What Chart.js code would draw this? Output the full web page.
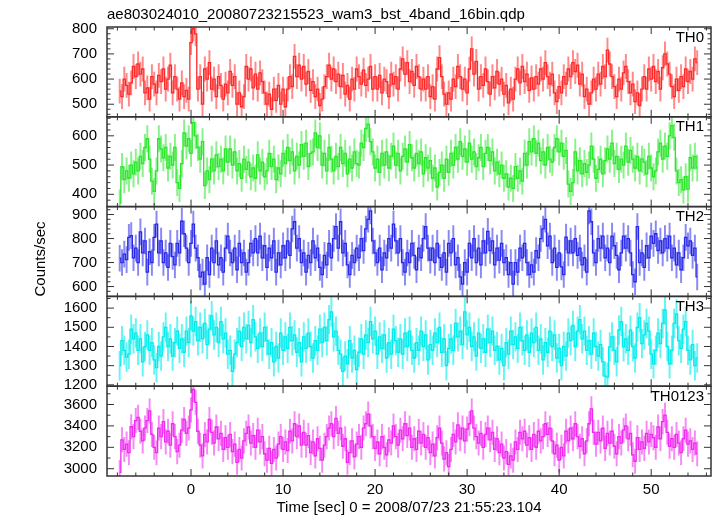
<!DOCTYPE html>
<html>
<head>
<meta charset="utf-8">
<script src="https://cdn.jsdelivr.net/npm/chart.js@4.4.1/dist/chart.umd.min.js"></script>
<style>
  html, body { margin: 0; background: #fff; }
  #wrap { position: relative; width: 717px; height: 516px; }
</style>
</head>
<body>
<div id="wrap"><canvas id="lc" width="717" height="516"></canvas></div>
<script>
// bin centres: first bin at -7.75 s, 0.25 s bins (16 x 1/64 s)
const tStart = -7.75;
const tBin = 0.25;

const th0 = [
  552,530,600,575, 540,585,650,610, 660,620,640,545, 565,520,610,580, 545,615,590,640,
  560,600,655,545, 610,560,520,585, 530,555,520,745, 800,780,560,610, 500,640,600,665,
  560,600,530,610, 575,520,580,545, 630,575,610,500, 545,490,530,650, 600,640,565,620,
  560,625,590,545, 500,540,480,560, 515,575,500,560, 490,560,610,570, 690,610,655,600,
  650,580,630,555, 590,530,560,495, 520,570,610,655, 600,640,590,620, 570,615,540,575,
  520,600,560,640, 610,580,635,575, 600,650,560,610, 560,615,545,600, 590,530,620,580,
  610,560,640,680, 620,665,590,630, 575,650,610,560, 600,560,610,530, 570,520,640,685,
  610,540,500,545, 520,600,570,650, 610,560,600,545, 640,720,620,670, 560,610,575,640,
  590,540,610,565, 630,580,600,540, 575,505,560,520, 600,640,585,650, 590,620,555,605,
  560,610,580,640, 600,665,610,580, 620,545,510,570, 545,610,580,640, 610,665,630,655,
  580,620,530,560, 500,545,600,560, 620,580,650,610, 715,660,610,570, 530,600,560,625,
  650,590,545,580, 510,545,495,560, 610,560,640,600, 650,590,630,560, 645,700,660,620,
  570,530,600,555, 610,570,640,590, 630,600,680,665
];
const th1 = [
  370,495,450,480, 455,500,470,510, 480,530,505,560, 590,520,445,410, 480,590,555,525,
  560,490,530,500, 560,440,420,505, 610,565,590,540, 645,600,560,520, 580,430,480,450,
  520,480,535,495, 520,480,555,510, 555,500,545,480, 505,455,520,485, 510,460,490,455,
  535,480,510,460, 480,540,495,520, 450,490,470,540, 505,560,515,545, 480,530,500,570,
  530,575,495,540, 545,610,560,600, 500,540,480,560, 520,480,530,495, 560,505,540,470,
  520,490,545,505, 500,575,560,625, 640,580,545,490, 520,475,540,500, 545,490,530,565,
  500,540,480,530, 555,510,570,525, 490,540,505,545, 470,525,490,515, 455,490,425,475,
  500,455,520,475, 540,500,560,520, 580,530,555,510, 575,520,545,495, 525,560,495,540,
  560,515,545,480, 510,470,500,455, 470,425,455,420, 495,455,480,445, 540,500,580,545,
  590,540,575,515, 545,500,560,520, 510,560,590,545, 575,530,550,435, 410,440,545,480,
  515,470,505,475, 500,565,520,455, 485,520,470,515, 555,520,575,505, 530,485,520,500,
  565,510,550,520, 490,530,480,520, 510,470,530,490, 460,480,545,575, 520,565,530,600,
  635,595,480,440, 450,415,460,418, 525,490,530,490
];
const th2 = [
  718,700,735,712, 805,812,720,760, 700,828,740,790, 660,745,700,805, 860,740,790,700,
  740,680,780,725, 690,780,740,872, 820,760,700,780, 860,760,720,640, 660,610,720,650,
  760,700,790,690, 720,660,760,810, 740,700,760,670, 780,700,740,660, 700,780,740,800,
  740,810,720,770, 680,760,720,790, 660,740,690,770, 720,790,730,840, 870,760,800,700,
  740,660,730,700, 790,720,760,680, 650,730,690,780, 720,800,850,760, 870,740,780,690,
  650,730,700,760, 720,800,750,840, 880,915,790,740, 700,760,670,740, 720,800,760,860,
  790,740,800,700, 660,740,700,780, 730,670,760,720, 800,850,760,710, 760,700,780,720,
  680,740,660,780, 740,800,690,720, 640,610,700,660, 780,720,800,700, 760,690,790,740,
  830,750,790,690, 760,710,780,700, 720,650,700,610, 700,660,760,720, 780,700,650,690,
  660,750,720,800, 840,880,770,810, 700,760,680,740, 682,650,806,740, 790,740,800,730,
  760,690,720,660, 915,870,740,700, 800,760,810,720, 760,700,810,770, 730,670,740,810,
  760,800,740,650, 620,850,700,740, 680,770,720,810, 780,820,750,790, 740,800,760,810,
  720,760,690,740, 670,720,805,770, 790,730,760,640
];
const th3 = [
  1300,1430,1380,1345, 1360,1490,1440,1470, 1380,1440,1320,1400, 1460,1380,1420,1330, 1290,1400,1350,1450,
  1500,1400,1440,1350, 1420,1480,1390,1440, 1370,1480,1420,1560, 1480,1530,1430,1500, 1440,1520,1410,1490,
  1560,1460,1500,1420, 1530,1440,1470,1360, 1380,1270,1360,1420, 1480,1400,1500,1440, 1510,1420,1540,1450,
  1390,1470,1400,1500, 1430,1360,1420,1320, 1400,1340,1470,1380, 1450,1390,1500,1430, 1460,1370,1420,1320,
  1450,1390,1470,1400, 1340,1430,1380,1490, 1420,1500,1430,1540, 1580,1450,1480,1380, 1360,1270,1350,1310,
  1430,1340,1380,1280, 1370,1440,1360,1460, 1420,1530,1440,1480, 1360,1450,1390,1460, 1340,1420,1360,1490,
  1430,1370,1440,1360, 1470,1400,1480,1380, 1340,1420,1380,1480, 1400,1460,1330,1410, 1380,1470,1420,1500,
  1370,1440,1300,1390, 1440,1380,1520,1450, 1480,1410,1580,1460, 1500,1400,1450,1350, 1470,1390,1440,1370,
  1490,1420,1480,1380, 1400,1330,1390,1300, 1420,1360,1480,1410, 1450,1390,1500,1430, 1380,1460,1370,1470,
  1420,1500,1380,1440, 1330,1420,1370,1480, 1400,1460,1340,1390, 1300,1400,1350,1470, 1430,1510,1400,1480,
  1540,1440,1480,1380, 1430,1360,1470,1400, 1350,1410,1320,1245, 1240,1398,1450,1380, 1320,1486,1530,1398,
  1440,1380,1485,1400, 1340,1500,1550,1415, 1460,1520,1480,1360, 1310,1380,1470,1415, 1520,1590,1400,1310,
  1380,1520,1570,1430, 1390,1490,1530,1380, 1330,1410,1300,1340
];
const th0123 = [
  2965,3270,3180,3230, 3150,3392,3300,3450, 3480,3350,3260,3380, 3450,3540,3320,3200, 3150,3380,3300,3440,
  3250,3350,3220,3420, 3300,3160,3220,3360, 3460,3330,3380,3550, 3740,3620,3350,3220, 3120,3320,3250,3460,
  3340,3240,3390,3280, 3330,3180,3290,3200, 3320,3160,3230,3060, 3180,3100,3260,3330, 3390,3240,3310,3200,
  3360,3250,3300,3140, 3080,3190,3050,3180, 3100,3230,3300,3180, 3250,3170,3350,3260, 3420,3300,3400,3220,
  3340,3220,3310,3150, 3250,3120,3280,3190, 3080,3220,3300,3380, 3420,3300,3470,3330, 3380,3210,3280,3060,
  3150,3260,3110,3230, 3300,3200,3380,3420, 3510,3400,3300,3190, 3250,3140,3300,3200, 3130,3270,3240,3400,
  3300,3220,3360,3280, 3420,3310,3380,3200, 3280,3180,3350,3240, 3320,3200,3290,3150, 3230,3120,3290,3380,
  3240,3090,3150,3020, 3180,3320,3250,3410, 3280,3380,3260,3370, 3420,3540,3380,3300, 3240,3330,3200,3320,
  3380,3270,3340,3180, 3280,3150,3230,3100, 3160,3040,3120,3080, 3250,3180,3340,3280, 3350,3220,3290,3180,
  3320,3200,3350,3260, 3300,3420,3320,3380, 3260,3140,3220,3080, 3200,3120,3350,3260, 3380,3280,3420,3300,
  3210,3280,3140,3260, 3420,3560,3340,3230, 3340,3260,3380,3190, 3330,3240,3350,3210, 3140,3300,3240,3360,
  3400,3280,3330,3130, 3070,3290,3180,3250, 3190,3330,3250,3320, 3290,3200,3390,3280, 3440,3500,3340,3210,
  3280,3200,3320,3240, 3150,3280,3360,3230, 3260,3180,3240,3140
];

const bands = ['TH0', 'TH1', 'TH2', 'TH3', 'TH0123'];
const series = [th0, th1, th2, th3, th0123];
const errHalf = [48, 45, 54, 75, 114];
const yRanges = [[450, 807], [358, 665], [559, 933], [1193, 1661], [2932, 3771]];
const yMajor = [
  [500, 600, 700, 800],
  [400, 500, 600],
  [600, 700, 800, 900],
  [1200, 1300, 1400, 1500, 1600],
  [3000, 3200, 3400, 3600]
];
const yMinorStep = [20, 20, 20, 50, 100];
const xRange = [-9.13, 56.5];
const xMajor = [0, 10, 20, 30, 40, 50];
const xMinorStep = 2;

const lineColors = ['rgb(255,40,40)', 'rgb(40,230,40)', 'rgb(40,40,235)', 'rgb(0,235,235)', 'rgb(240,40,240)'];
const errColors = ['rgba(255,40,40,0.55)', 'rgba(40,230,40,0.55)', 'rgba(40,40,235,0.55)', 'rgba(0,235,235,0.6)', 'rgba(240,40,240,0.55)'];

const FONT = '15px "Liberation Sans", Arial, Helvetica, sans-serif';
const nPanels = bands.length;
const panelH = 449 / nPanels;

const datasets = [];
const scales = {
  x: { type: 'linear', min: xRange[0], max: xRange[1], offset: false, display: false }
};

series.forEach((vals, k) => {
  const [lo, hi] = yRanges[k];
  const span = hi - lo;
  // each panel owns one fifth of the plot area; stretch its scale so [lo,hi] lands there
  scales['y' + k] = {
    type: 'linear',
    display: false,
    min: lo - (nPanels - 1 - k) * span,
    max: hi + k * span
  };
  const clip = { left: 0, right: 0, top: -k * panelH, bottom: -(nPanels - 1 - k) * panelH };
  const e = errHalf[k];
  datasets.push({
    type: 'bar',
    label: bands[k] + ' err',
    yAxisID: 'y' + k,
    data: vals.map((v, i) => ({ x: tStart + i * tBin, y: [v - e, v + e] })),
    backgroundColor: errColors[k],
    barThickness: 1.3,
    grouped: false,
    clip,
    order: 2
  });
  datasets.push({
    type: 'line',
    label: bands[k],
    yAxisID: 'y' + k,
    data: vals.map((v, i) => ({ x: tStart + i * tBin, y: v })),
    borderColor: lineColors[k],
    borderWidth: 1.3,
    stepped: 'middle',
    pointRadius: 0,
    fill: false,
    clip,
    order: 1
  });
});

const qdpFrame = {
  id: 'qdpFrame',
  afterDraw(chart) {
    const ctx = chart.ctx;
    const ca = chart.chartArea;
    const xs = chart.scales.x;
    ctx.save();
    ctx.font = FONT;
    ctx.fillStyle = '#000';
    ctx.strokeStyle = '#333';

    bands.forEach((name, k) => {
      const ys = chart.scales['y' + k];
      const top = ca.top + k * panelH;
      const bot = top + panelH;

      ctx.lineWidth = 1.5;
      ctx.strokeRect(ca.left, top, ca.right - ca.left, panelH);

      ctx.lineWidth = 1;
      ctx.beginPath();
      for (let t = -8; t <= 56; t += xMinorStep) {
        const px = xs.getPixelForValue(t);
        if (px <= ca.left + 1 || px >= ca.right - 1) continue;
        const len = xMajor.includes(t) ? 7 : 3.5;
        ctx.moveTo(px, bot); ctx.lineTo(px, bot - len);
        ctx.moveTo(px, top); ctx.lineTo(px, top + len);
      }
      const [lo, hi] = yRanges[k];
      const step = yMinorStep[k];
      for (let v = Math.ceil(lo / step) * step; v <= hi; v += step) {
        const py = ys.getPixelForValue(v);
        if (py <= top + 1 || py >= bot - 1) continue;
        const len = yMajor[k].includes(v) ? 7 : 3.5;
        ctx.moveTo(ca.left, py); ctx.lineTo(ca.left + len, py);
        ctx.moveTo(ca.right, py); ctx.lineTo(ca.right - len, py);
      }
      ctx.stroke();

      ctx.textAlign = 'right';
      ctx.textBaseline = 'middle';
      yMajor[k].forEach(v => ctx.fillText(String(v), ca.left - 10, ys.getPixelForValue(v)));

      ctx.textBaseline = 'top';
      ctx.fillText(name, ca.right - 7, top + 3);
    });

    // time axis labels on the bottom panel
    ctx.textAlign = 'center';
    ctx.textBaseline = 'middle';
    xMajor.forEach(t => ctx.fillText(String(t), xs.getPixelForValue(t), 490));
    ctx.fillText('Time [sec] 0 = 2008/07/23 21:55:23.104', (ca.left + ca.right) / 2, 508);

    ctx.textAlign = 'left';
    ctx.textBaseline = 'alphabetic';
    ctx.fillText('ae803024010_20080723215523_wam3_bst_4band_16bin.qdp', 107, 19);

    ctx.translate(41, 259);
    ctx.rotate(-Math.PI / 2);
    ctx.textAlign = 'center';
    ctx.textBaseline = 'middle';
    ctx.fillText('Counts/sec', 0, 0);
    ctx.restore();
  }
};

new Chart(document.getElementById('lc'), {
  data: { datasets },
  options: {
    responsive: false,
    animation: false,
    devicePixelRatio: 1,
    layout: { padding: { left: 107, right: 6, top: 27, bottom: 40 } },
    scales,
    plugins: {
      legend: { display: false },
      tooltip: { enabled: false }
    }
  },
  plugins: [qdpFrame]
});
</script>
</body>
</html>
